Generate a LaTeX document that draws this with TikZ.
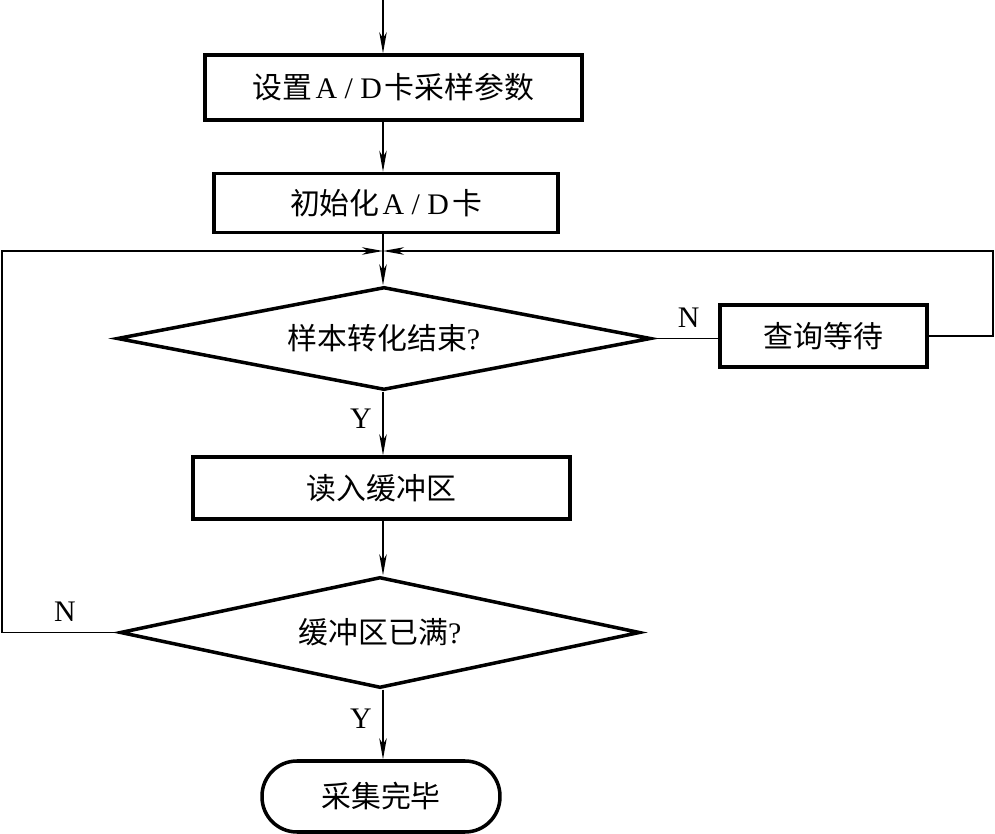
\documentclass[tikz,border=0pt]{standalone}
\usepackage{fontspec}
\setmainfont{Liberation Serif}
\newfontfamily\cjk{Noto Sans CJK SC}
\usetikzlibrary{arrows.meta,shapes.geometric}
\newcommand{\lat}[1]{{\rmfamily #1}}
\newcommand{\adtext}{\lat{\hspace{0.1em}A\hspace{0.25em}/\hspace{0.25em}D\hspace{0.1em}}}
\tikzset{
  box/.style={draw,line width=2pt,rectangle,inner sep=0pt,font=\cjk\fontsize{17}{20}\selectfont},
  dia/.style={draw,line width=2pt,diamond,aspect=5,inner sep=0pt,font=\cjk\fontsize{17}{20}\selectfont},
  term/.style={draw,line width=2pt,rectangle,rounded corners=0.7cm,inner sep=0pt,font=\cjk\fontsize{17}{20}\selectfont},
  conn/.style={line width=0.8pt},
  arr/.style={conn,-{Stealth[length=4.2mm,width=1.5mm,inset=1.2mm]}},
  lbl/.style={font=\rmfamily\fontsize{17}{20}\selectfont,inner sep=0pt}
}
\begin{document}
\begin{tikzpicture}[x=0.02cm,y=-0.02cm]
\useasboundingbox (0,0) rectangle (995,834);
\coordinate (top) at (383,0);
\coordinate (m) at (383,251);
\node[box,minimum width=7.54cm,minimum height=1.30cm] (b1) at (393.5,87.5) {设置\adtext 卡采样参数};
\node[box,minimum width=6.88cm,minimum height=1.18cm] (b2) at (386,203) {初始化\adtext 卡};
\node[dia,minimum width=10.68cm,minimum height=2.06cm] (d1) at (384,338.5) {样本转化结束\lat{?}};
\node[box,minimum width=4.14cm,minimum height=1.24cm] (b3) at (823.5,336) {查询等待};
\node[box,minimum width=7.54cm,minimum height=1.24cm] (b4) at (381.5,488) {读入缓冲区};
\node[dia,minimum width=10.40cm,minimum height=2.22cm] (d2) at (380,632.5) {缓冲区已满\lat{?}};
\node[term,minimum width=4.76cm,minimum height=1.42cm] (t) at (381,796.5) {采集完毕};
\coordinate (r) at (993,337);
\coordinate (l) at (2,633);
% main flow
\draw[arr] (top) -- (top |- b1.north);
\draw[arr] (top |- b1.south) -- (top |- b2.north);
\draw[arr] (top |- b2.south) -- (top |- d1.north);
\draw[arr] (top |- d1.south) -- node[lbl,left=6pt,pos=0.42] (y1) {Y} (top |- b4.north);
\draw[arr] (top |- b4.south) -- (top |- d2.north);
\draw[arr] (top |- d2.south) -- node[lbl,left=6pt,pos=0.42] (y2) {Y} (top |- t.north);
% N branch right
\draw[conn] (d1.east) -- node[lbl,above=6pt,pos=0.55] (n1) {N} (d1.east -| b3.west);
\draw[arr] (b3.east) -- (b3.east -| r) |- (m);
% N branch left
\draw[arr] (d2.west) -- node[lbl,above=6pt,pos=0.46] (n2) {N} (d2.west -| l) |- (m);
\end{tikzpicture}
\end{document}
